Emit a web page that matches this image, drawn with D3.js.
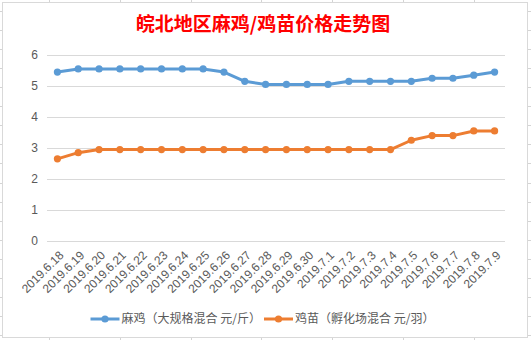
<!DOCTYPE html>
<html><head><meta charset="utf-8">
<script src="https://cdn.jsdelivr.net/npm/d3@7"></script>
<style>
html,body{margin:0;padding:0;background:#fff;}
svg{display:block;}
</style></head>
<body>
<svg id="c" width="531" height="340"></svg>
<script>
const title = "皖北地区麻鸡/鸡苗价格走势图";
const categories = ["2019.6.18","2019.6.19","2019.6.20","2019.6.21","2019.6.22","2019.6.23","2019.6.24","2019.6.25","2019.6.26","2019.6.27","2019.6.28","2019.6.29","2019.6.30","2019.7.1","2019.7.2","2019.7.3","2019.7.4","2019.7.5","2019.7.6","2019.7.7","2019.7.8","2019.7.9"];
const seriesNames = ["麻鸡（大规格混合 元/斤）","鸡苗（孵化场混合 元/羽）"];
const majiValues = [5.45,5.55,5.55,5.55,5.55,5.55,5.55,5.55,5.45,5.15,5.05,5.05,5.05,5.05,5.15,5.15,5.15,5.15,5.25,5.25,5.35,5.45];
const jimiaoValues = [2.65,2.85,2.95,2.95,2.95,2.95,2.95,2.95,2.95,2.95,2.95,2.95,2.95,2.95,2.95,2.95,2.95,3.25,3.4,3.4,3.55,3.55];
const yTicks = [0,1,2,3,4,5,6];
const colors = ["#5B9BD5","#ED7D31"];

const svg = d3.select("#c");
const W = 531, H = 340;

// spreadsheet grid behind the chart object
const sheetX = d3.range(7).map(i => 49 + i*70.8);
const sheetY = d3.range(18).map(i => 11 + i*19.06);
svg.append("g").selectAll("line.v").data(sheetX).join("line")
  .attr("x1", d => Math.round(d)+0.5).attr("x2", d => Math.round(d)+0.5)
  .attr("y1", 0).attr("y2", H).attr("stroke", "#d4d4d4");
svg.append("g").selectAll("line.h").data(sheetY).join("line")
  .attr("y1", d => Math.round(d)+0.5).attr("y2", d => Math.round(d)+0.5)
  .attr("x1", 0).attr("x2", W).attr("stroke", "#d4d4d4");

// chart area
svg.append("rect").attr("x", 2.5).attr("y", 2.5).attr("width", 525).attr("height", 335)
  .attr("fill", "#fff").attr("stroke", "#d9d9d9");

const x = d3.scaleBand().domain(categories).range([47, 505]);
const y = d3.scaleLinear().domain([0, 6]).range([241, 55]);

// gridlines
svg.append("g").selectAll("line").data(yTicks).join("line")
  .attr("x1", 47).attr("x2", 505)
  .attr("y1", d => Math.round(y(d))+0.5).attr("y2", d => Math.round(y(d))+0.5)
  .attr("stroke", "#d9d9d9");

// y axis labels
const yAxis = d3.axisLeft(y).tickValues(yTicks).tickFormat(d3.format("d")).tickSize(0).tickPadding(0);
const gy = svg.append("g").attr("transform", "translate(38,0)").call(yAxis);
gy.select(".domain").remove();
gy.selectAll("text").attr("fill", "#595959").attr("font-size", 12)
  .attr("font-family", "Liberation Sans, Arial, sans-serif");

// x axis labels
const xAxis = d3.axisBottom(x).tickSize(0).tickPadding(0);
const gx = svg.append("g").attr("transform", "translate(0,241)").call(xAxis);
gx.select(".domain").remove();
gx.selectAll("text")
  .attr("fill", "#595959").attr("font-size", 12)
  .attr("font-family", "Liberation Sans, Arial, sans-serif")
  .attr("text-anchor", "end")
  .attr("dy", "0.35em")
  .attr("transform", "translate(4,12) rotate(-45)");

// lines
const cx = d => x(d) + x.bandwidth()/2;
const series = [majiValues, jimiaoValues];
series.forEach((vals, i) => {
  const line = d3.line().x((d, j) => cx(categories[j])).y(d => y(d));
  svg.append("path").datum(vals).attr("d", line)
    .attr("fill", "none").attr("stroke", colors[i]).attr("stroke-width", 3)
    .attr("stroke-linejoin", "round").attr("stroke-linecap", "round");
  svg.append("g").selectAll("circle").data(vals).join("circle")
    .attr("cx", (d, j) => cx(categories[j])).attr("cy", d => y(d))
    .attr("r", 3.6).attr("fill", colors[i]);
});

// title
svg.append("text").attr("x", 263).attr("y", 31).attr("text-anchor", "middle")
  .attr("fill", "#FF0000").attr("font-size", 19).attr("font-weight", "bold")
  .attr("font-family", "Noto Sans CJK SC, sans-serif").text(title);

// legend
const legendX = [90.5, 264];
seriesNames.forEach((name, i) => {
  const g = svg.append("g").attr("transform", `translate(${legendX[i]},319)`);
  g.append("line").attr("x1", 0).attr("x2", 29).attr("y1", 0).attr("y2", 0)
    .attr("stroke", colors[i]).attr("stroke-width", 3);
  g.append("circle").attr("cx", 14.5).attr("cy", 0).attr("r", 3.6).attr("fill", colors[i]);
  g.append("text").attr("x", 31).attr("y", 0).attr("dy", "0.35em")
    .attr("fill", "#595959").attr("font-size", 12)
    .attr("font-family", "Noto Sans CJK SC, sans-serif").text(name);
});
</script>
</body></html>
